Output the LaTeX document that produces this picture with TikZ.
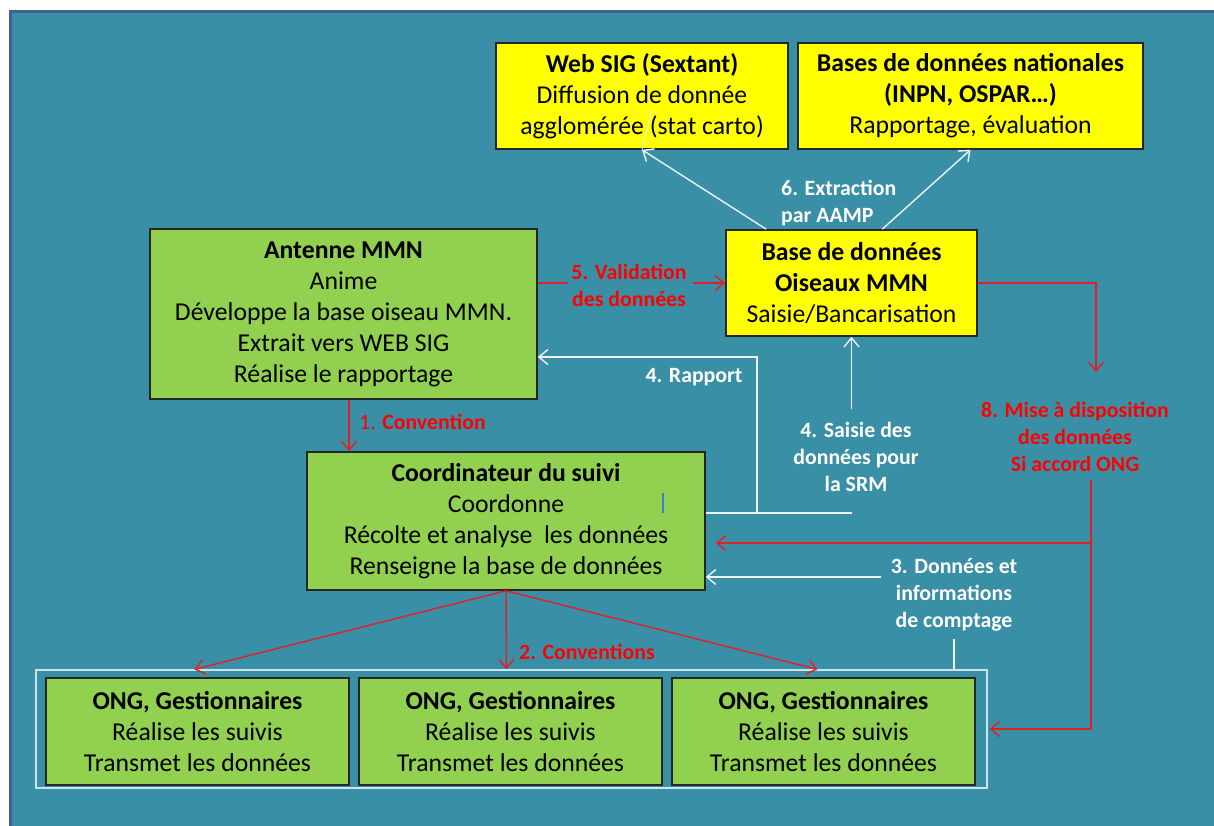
\documentclass[tikz,border=0pt]{standalone}
\usepackage{fontspec}
\setmainfont{Carlito}
\usetikzlibrary{arrows.meta,calc}
\definecolor{bg}{RGB}{57,144,166}
\definecolor{framec}{RGB}{62,98,145}
\definecolor{boxgreen}{RGB}{146,208,80}
\definecolor{boxyellow}{RGB}{255,255,0}
\definecolor{lnred}{RGB}{228,30,38}
\definecolor{txtred}{RGB}{255,0,0}
\definecolor{lnwhite}{RGB}{236,243,246}
\definecolor{grpline}{RGB}{205,228,236}
\definecolor{cursorblue}{RGB}{70,125,200}
\begin{document}
\begin{tikzpicture}[x=1pt,y=-1pt,
  box/.style={draw=black!85, line width=1.6pt, align=center, inner sep=0pt,
    font=\fontsize{25.7}{31}\selectfont},
  gbox/.style={box, fill=boxgreen},
  ybox/.style={box, fill=boxyellow},
  tipbarb/.style={-{Straight Barb[length=9pt,width=15pt,line width=1.4pt]}},
  rline/.style={draw=lnred, line width=1.4pt},
  redarr/.style={rline, tipbarb},
  wline/.style={draw=lnwhite, line width=1.4pt},
  whitearr/.style={wline, tipbarb},
  lbl/.style={align=center, inner sep=0pt, font=\fontsize{21.8}{27}\selectfont\bfseries},
  wlbl/.style={lbl, text=white},
  rlbl/.style={lbl, text=txtred}
]
\useasboundingbox (0,0) rectangle (1214,825);
\clip (0,0) rectangle (1214,825);
\fill[white] (0,0) rectangle (1214,825);
\filldraw[fill=bg, draw=framec, line width=3pt] (10,11) rectangle (1230,840);

% group frame
\node[draw=grpline, line width=1.3pt, minimum width=951pt, minimum height=118pt, inner sep=0pt] (grp) at (511.5,729) {};

% boxes
\node[ybox, minimum width=292pt, minimum height=106pt] (websig) at (642,96)
  {\textbf{Web SIG (Sextant)}\\Diffusion de donnée\\agglomérée (stat carto)};
\node[ybox, minimum width=345pt, minimum height=106pt] (bnat) at (970.5,96)
  {\textbf{Bases de données nationales}\\\textbf{(INPN, OSPAR…)}\\Rapportage, évaluation};
\node[ybox, minimum width=251pt, minimum height=106pt] (bdd) at (851.5,283)
  {\textbf{Base de données}\\\textbf{Oiseaux MMN}\\Saisie/Bancarisation};
\node[gbox, minimum width=387pt, minimum height=170pt] (ant) at (343.5,314)
  {\textbf{Antenne MMN}\\Anime\\Développe la base oiseau MMN.\\Extrait vers WEB SIG\\Réalise le rapportage};
\node[gbox, minimum width=398pt, minimum height=138pt] (coord) at (506,521)
  {\textbf{Coordinateur du suivi}\\Coordonne\\Récolte et analyse\ \ les données\\Renseigne la base de données};
\node[gbox, minimum width=303pt, minimum height=107pt] (ong1) at (197.5,731.5)
  {\textbf{ONG, Gestionnaires}\\Réalise les suivis\\Transmet les données};
\node[gbox, minimum width=303pt, minimum height=107pt] (ong2) at (510.5,731.5)
  {\textbf{ONG, Gestionnaires}\\Réalise les suivis\\Transmet les données};
\node[gbox, minimum width=303pt, minimum height=107pt] (ong3) at (823.5,731.5)
  {\textbf{ONG, Gestionnaires}\\Réalise les suivis\\Transmet les données};

% cursor mark
\coordinate (cur) at (663,493);
\draw[cursorblue, line width=1.2pt] (cur) -- ++(0,20);

% 6. Extraction
\draw[whitearr] ($(bdd.north west)+(41,0)$) -- (websig.south);
\draw[whitearr] ($(bdd.north west)+(157,0)$) -- (bnat.south);
\draw[lnwhite, line width=0.9pt] (websig.south) -- ++(10,-40);
\node[wlbl, anchor=west, align=left] (l6) at (781,203) {6. Extraction\\par AAMP};

% 5. Validation
\coordinate (v1) at (568,283);
\coordinate (v2) at (693,283);
\draw[rline] (ant.east |- bdd.west) -- (v1);
\draw[redarr] (v2) -- (bdd.west);
\node[rlbl] (l5) at (629,285) {5. Validation\\des données};

% 4. Rapport / Saisie
\coordinate (r1) at (757,513);
\coordinate (s1) at (851.5,513);
\coordinate (s2) at (851.5,409);
\draw[wline] (coord.east |- r1) -- (s1);
\draw[whitearr] (r1) |- ($(ant.east)+(0,43)$);
\draw[whitearr] (s2) -- (bdd.south);
\node[wlbl] (l4r) at (694,377) {4. Rapport};
\node[wlbl] (l4s) at (856,457) {4. Saisie des\\données pour\\la SRM};

% 1. Convention
\coordinate (c1) at ($(ant.south)+(5.5,0)$);
\draw[redarr] (c1) -- (c1 |- coord.north);
\node[rlbl, anchor=west] (l1) at (359,422) {\mdseries 1. \bfseries Convention};

% 2. Conventions
\draw[redarr] (coord.south) -- ($(grp.north west)+(159,0)$);
\draw[redarr] (coord.south) -- ($(grp.north west)+(471,0)$);
\draw[redarr] (coord.south) -- ($(grp.north west)+(782,0)$);
\node[rlbl, anchor=west] (l2) at (519,652) {2. Conventions};

% 3. Données
\coordinate (d1) at (954,639);
\coordinate (d2) at (881,577);
\draw[wline] (grp.north -| d1) -- (d1);
\draw[whitearr] (d2) -- (coord.east |- d2);
\node[wlbl] (l3) at (954,595) {3. Données et\\informations\\de comptage};

% 8. Mise a disposition
\coordinate (m1) at (1096,372);
\coordinate (m2) at (1091,480);
\coordinate (m3) at (1091,543);
\coordinate (m4) at (1091,729);
\draw[redarr] (bdd.east) -| (m1);
\draw[rline] (m2) -- (m4);
\draw[redarr] (m3) -- ($(coord.east |- m3)+(10,0)$);
\draw[redarr] (m4) -- ($(grp.east)+(2,0)$);
\node[rlbl] (l8) at (1075,437) {8. Mise à disposition\\des données\\Si accord ONG};
\end{tikzpicture}
\end{document}
